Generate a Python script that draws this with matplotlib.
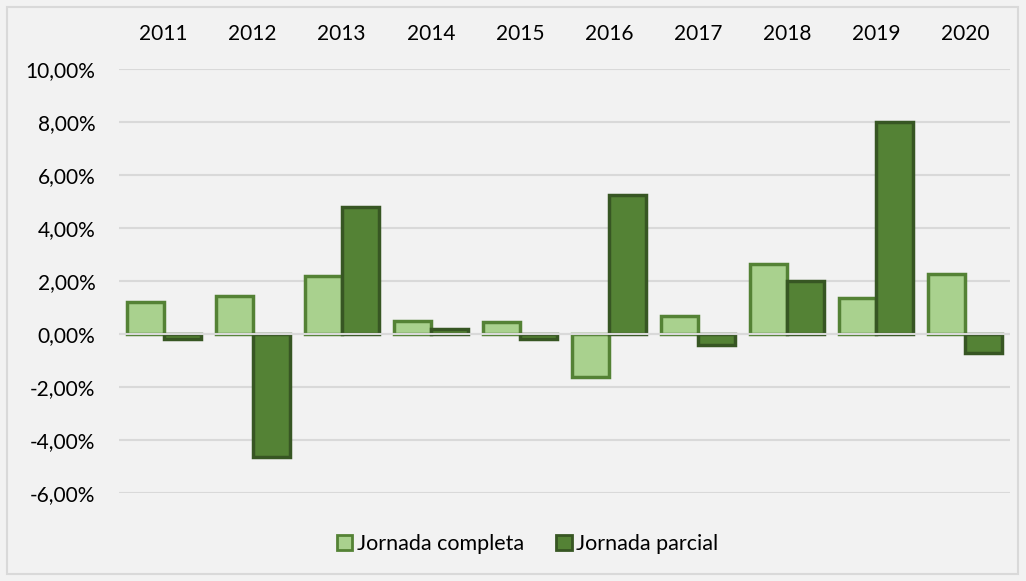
import matplotlib
matplotlib.use("Agg")
import matplotlib.pyplot as plt
from matplotlib.patches import Patch, Rectangle
import numpy as np

years = ["2011", "2012", "2013", "2014", "2015", "2016", "2017", "2018", "2019", "2020"]
completa = [1.20, 1.43, 2.18, 0.50, 0.46, -1.64, 0.67, 2.64, 1.37, 2.28]
parcial = [-0.19, -4.64, 4.81, 0.17, -0.18, 5.26, -0.41, 1.99, 8.00, -0.73]
yticks = [-6, -4, -2, 0, 2, 4, 6, 8, 10]

light_fill, light_edge = "#A9D18E", "#548235"
dark_fill, dark_edge = "#548235", "#375623"
bg = "#F2F2F2"

plt.rcParams['font.family'] = ['Lato', 'DejaVu Sans']

fig = plt.figure(figsize=(10.26, 5.81), dpi=100, facecolor=bg)
fig.patches.append(Rectangle((7/1026, 7/581), 1011/1026, 567/581, transform=fig.transFigure,
                             fill=False, edgecolor="#D9D9D9", lw=1.5, zorder=10))
ax = fig.add_axes([119/1026, (581-492.7)/581, (1010-119)/1026, (492.7-69.3)/581])
ax.set_facecolor(bg)

x = np.arange(len(years))
w = 0.415
ax.bar(x - w/2, completa, w, facecolor=light_fill, edgecolor=light_edge, lw=2.5, zorder=2)
ax.bar(x + w/2, parcial, w, facecolor=dark_fill, edgecolor=dark_edge, lw=2.5, zorder=2)
ax.axhline(0, color="#D9D9D9", lw=1.5, zorder=3)

ax.set_xlim(-0.5, len(years) - 0.5)
ax.set_ylim(-6, 10)
ax.set_yticks(yticks)
ax.set_yticklabels([f"{v:.2f}%".replace('.', ',') for v in yticks], fontsize=15, color="#000000")
ax.yaxis.grid(True, color="#D9D9D9", lw=1.5, zorder=0)
ax.set_axisbelow(True)
ax.xaxis.tick_top()
ax.set_xticks(x)
ax.set_xticklabels(years, fontsize=15, color="#000000")
ax.tick_params(axis='x', length=0, pad=18)
ax.tick_params(axis='y', length=0, pad=17)
for s in ax.spines.values():
    s.set_visible(False)

handles = [Patch(facecolor=light_fill, edgecolor=light_edge, lw=2, label="Jornada completa"),
           Patch(facecolor=dark_fill, edgecolor=dark_edge, lw=2, label="Jornada parcial")]
fig.legend(handles=handles, loc="center", bbox_to_anchor=(0.514, 0.064), ncol=2, frameon=False,
           fontsize=15.5, handlelength=0.72, handleheight=0.72, handletextpad=0.2, columnspacing=1.5)

fig.savefig("out.png", dpi=100, facecolor=bg)
